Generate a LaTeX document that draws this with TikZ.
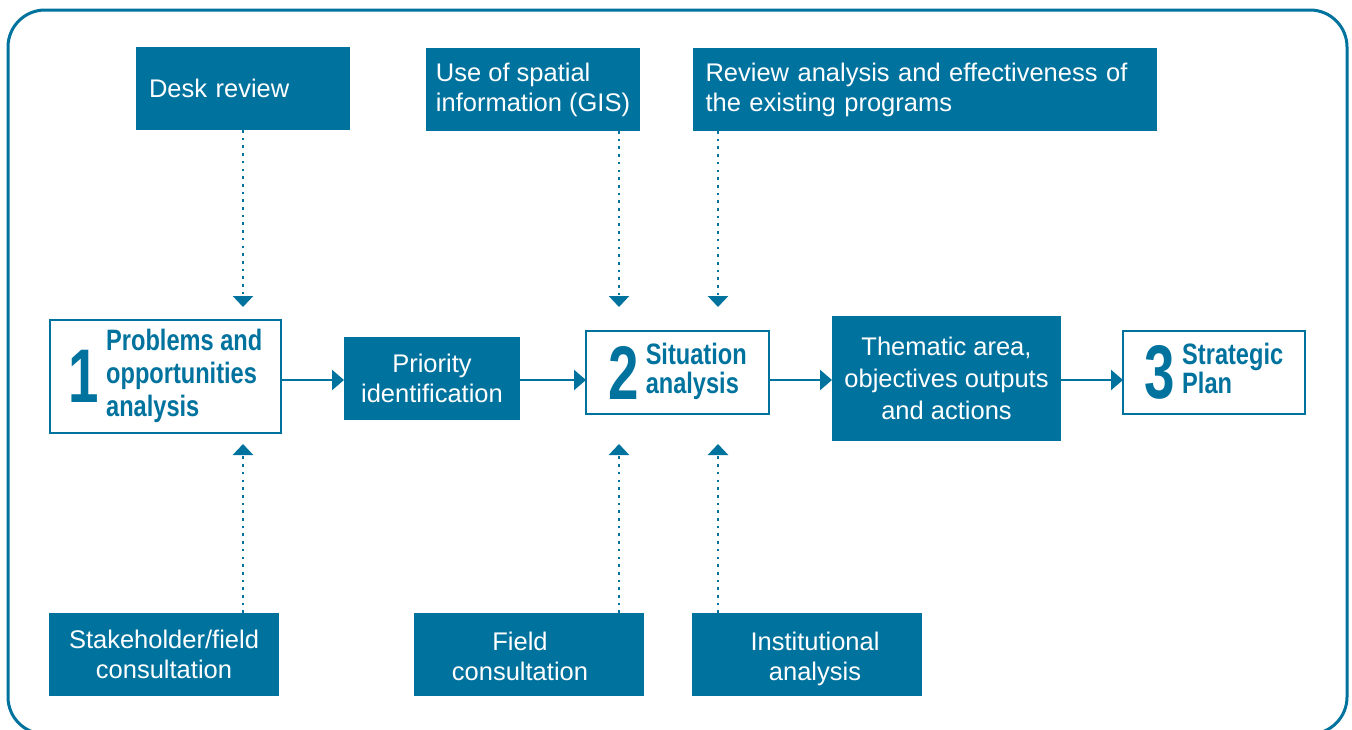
\documentclass[tikz,border=0pt]{standalone}
\usepackage{fontspec}
\setmainfont{Liberation Sans}
\newfontfamily\condfont[FakeStretch=0.8]{Liberation Sans}
\newfontfamily\numfont[FakeStretch=0.72]{Liberation Sans}
\usepackage{tikz}
\usetikzlibrary{arrows.meta,positioning}
\definecolor{tealblue}{RGB}{0,114,158}

% big step number beside a short bold title
\newcommand{\stepnum}[2]{$\vcenter{\hbox{\numfont\bfseries\fontsize{76}{76}\selectfont #1}}$\hspace{7pt}$\vcenter{\hbox{\begin{tabular}{@{}l@{}}#2\end{tabular}}}$}

\begin{document}
\begin{tikzpicture}[x=1pt,y=-1pt,
   feeder/.style={fill=tealblue, text=white, minimum height=83pt, inner sep=0pt, outer sep=0pt, font=\fontsize{25.5}{30}\selectfont},
   numbox/.style={draw=tealblue, line width=2.6pt, fill=white, text=tealblue, minimum height=83pt, inner sep=0pt, outer sep=0pt},
   flow/.style={tealblue, line width=2.5pt, -{Triangle[width=20pt,length=12pt]}},
   feed/.style={tealblue, line width=2.6pt, dash pattern=on 2.6pt off 5.1pt, -{Triangle[width=20pt,length=11pt]}}]

   \useasboundingbox (0,0) rectangle (1352,729);
   \draw[tealblue, line width=3pt, rounded corners=37pt] (8,10) rectangle (1347,734);

   % main row
   \node[numbox, minimum width=231pt, minimum height=113pt, font=\condfont\bfseries\fontsize{29.5}{33}\selectfont] (problems) at (165.5,376.5) {\stepnum{1}{Problems and\\opportunities\\analysis}};
   \node[feeder, minimum width=176pt, align=center] (priority) [right=63pt of problems, yshift=-2pt] {Priority\\identification};
   \node[numbox, minimum width=183pt, font=\condfont\bfseries\fontsize{29.5}{27}\selectfont] (situation) [right=66pt of priority, yshift=6pt] {\stepnum{2}{Situation\\analysis}};
   \node[feeder, minimum width=229pt, minimum height=125pt, align=center, font=\fontsize{25.5}{32}\selectfont] (thematic) [right=63pt of situation, yshift=-6pt] {Thematic area,\\objectives outputs\\and actions};
   \node[numbox, minimum width=182pt, font=\condfont\bfseries\fontsize{29.5}{28}\selectfont] (strategic) [right=62pt of thematic, yshift=6pt] {\stepnum{3}{Strategic\\Plan}};

   % inputs above
   \node[feeder, text width=188pt, inner xsep=13pt, align=left] (desk) at (243,88.5) {Desk review};
   \node[feeder, minimum width=214pt, align=left] (gis) at (533,89.5) {Use of spatial\\information (GIS)};
   \node[feeder, text width=439pt, inner xsep=12.5pt, align=left] (review) at (925,89.5) {Review analysis and effectiveness of\\the existing programs};

   % inputs below
   \node[feeder, minimum width=230pt, align=center] (stakeholder) at (164,654.5) {Stakeholder/field\\consultation};
   \node[feeder, minimum width=230pt] (fieldcons) at (529,654.5) {\raisebox{-5pt}[\height][\depth]{\begin{tabular}{@{}c@{}}Field\\consultation\end{tabular}}\hspace*{18pt}};
   \node[feeder, minimum width=230pt] (institutional) at (807,654.5) {\hspace*{16pt}\raisebox{-5pt}[\height][\depth]{\begin{tabular}{@{}c@{}}Institutional\\analysis\end{tabular}}};

   \coordinate (row) at (0,380);
   \coordinate (tiptop) at (0,307);
   \coordinate (tipbot) at (0,444);
   \coordinate (col1) at (243,0);
   \coordinate (col2) at (619,0);
   \coordinate (col3) at (718,0);

   \draw[flow] (problems.east |- row) -- (priority.west |- row);
   \draw[flow] (priority.east |- row) -- (situation.west |- row);
   \draw[flow] (situation.east |- row) -- (thematic.west |- row);
   \draw[flow] (thematic.east |- row) -- (strategic.west |- row);

   \draw[feed] (desk.south -| col1) -- (col1 |- tiptop);
   \draw[feed] (stakeholder.north -| col1) -- (col1 |- tipbot);
   \draw[feed] (gis.south -| col2) -- (col2 |- tiptop);
   \draw[feed] (fieldcons.north -| col2) -- (col2 |- tipbot);
   \draw[feed] (review.south -| col3) -- (col3 |- tiptop);
   \draw[feed] (institutional.north -| col3) -- (col3 |- tipbot);

\end{tikzpicture}
\end{document}
